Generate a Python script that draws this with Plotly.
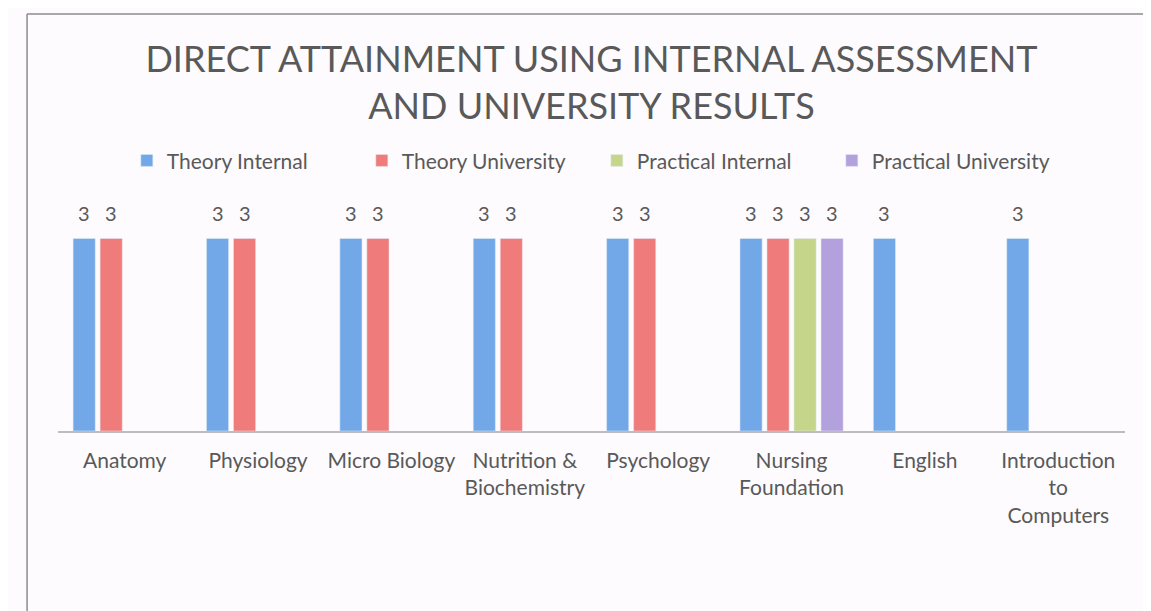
import plotly.graph_objects as go

# 과목 (카테고리)
subjects = ['Anatomy', 'Physiology', 'Micro Biology', 'Nutrition &<br>Biochemistry',
            'Psychology', 'Nursing<br>Foundation', 'English', 'Introduction<br>to<br>Computers']

# 시리즈 값
theory_internal = [3, 3, 3, 3, 3, 3, 3, 3]
theory_university = [3, 3, 3, 3, 3, 3, None, None]
practical_internal = [None, None, None, None, None, 3, None, None]
practical_university = [None, None, None, None, None, 3, None, None]

series = [
    ('Theory Internal', theory_internal, '#72A8E8'),
    ('Theory University', theory_university, '#F07B7B'),
    ('Practical Internal', practical_internal, '#C5D68A'),
    ('Practical University', practical_university, '#B3A1DE'),
]

font_family = 'Lato, "Open Sans", sans-serif'
txt_color = '#595959'

# 페이지 기본 여백(8px) 보정
W, H = 1143, 603
L, R, T, B = 50, 26, 192, 180
bargap = 0.19
plot_w = W - L - R
slot = plot_w / len(subjects) * (1 - bargap) / len(series)

fig = go.Figure()
for i, (name, vals, color) in enumerate(series):
    fig.add_trace(go.Bar(x=subjects, y=vals, name=name, marker_color=color))
    # 값 레이블
    for s, v in zip(subjects, vals):
        if v is None:
            continue
        fig.add_annotation(x=s, y=v, text=str(v), showarrow=False,
                           xshift=(i - (len(series) - 1) / 2) * slot, yshift=26,
                           font=dict(size=20, color=txt_color, family=font_family))

# 레이아웃
fig.update_layout(
    width=W, height=H,
    margin=dict(l=L, r=R, t=T, b=B),
    paper_bgcolor='#FDFBFD', plot_bgcolor='#FDFBFD',
    barmode='group', bargap=bargap, bargroupgap=0.18,
    font=dict(family=font_family, color=txt_color),
    title=dict(
        text='DIRECT ATTAINMENT USING INTERNAL ASSESSMENT<br>AND UNIVERSITY RESULTS',
        x=0.5, xref='paper', xanchor='center',
        y=1 - 64 / H, yref='container', yanchor='middle',
        font=dict(size=36, color=txt_color, family=font_family),
    ),
    legend=dict(
        orientation='h', x=0.505, xanchor='center', y=1.17, yanchor='middle',
        font=dict(size=21, color=txt_color, family=font_family),
        itemwidth=30, traceorder='normal', bgcolor='rgba(0,0,0,0)',
        entrywidth=190, entrywidthmode='pixels',
    ),
    showlegend=True,
)

fig.update_xaxes(
    showline=True, linecolor='#BDBDBD', linewidth=1.5, ticks='',
    tickfont=dict(size=21, color=txt_color, family=font_family),
    ticklabelstandoff=10, showgrid=False,
)
fig.update_yaxes(range=[0, 3.6], visible=False, showgrid=False)

# 차트 외곽선
fig.add_shape(type='line', xref='paper', yref='paper',
              x0=-0.029, x1=1.1, y0=1.805, y1=1.805,
              line=dict(color='#8C8C8C', width=1.5))
fig.add_shape(type='line', xref='paper', yref='paper',
              x0=-0.029, x1=-0.029, y0=1.805, y1=-0.8,
              line=dict(color='#8C8C8C', width=1.5))

fig.write_html('out.html')
